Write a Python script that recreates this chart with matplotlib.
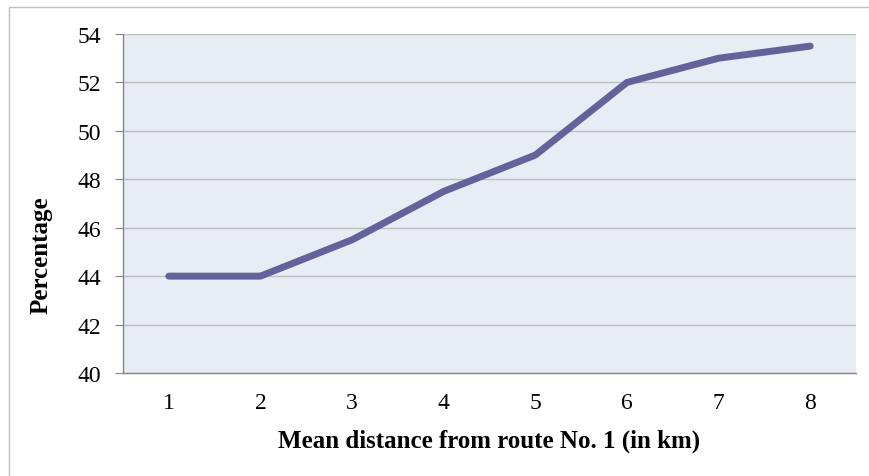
import matplotlib.pyplot as plt
from matplotlib.patches import Rectangle

distance = [1, 2, 3, 4, 5, 6, 7, 8]
percentage = [44, 44, 45.5, 47.5, 49, 52, 53, 53.5]
y_ticks = [40, 42, 44, 46, 48, 50, 52, 54]

plt.rcParams['font.family'] = ['Liberation Serif', 'DejaVu Serif']

W, H = 870, 477
fig = plt.figure(figsize=(W / 100, H / 100), dpi=100)
ax = fig.add_axes([123 / W, 1 - 374 / H, (856 - 123) / W, (374 - 35) / H])

ax.set_facecolor('#E8ECF4')
ax.plot(distance, percentage, color='#64629A', lw=5, solid_capstyle='round',
        solid_joinstyle='round', zorder=3)

ax.set_xlim(0.5, 8.5)
ax.set_ylim(40, 54)
ax.set_yticks(y_ticks)
ax.set_xticks(distance)
ax.grid(axis='y', color='#BFBFBF', lw=1)
ax.set_axisbelow(True)

for s in ['top', 'right']:
    ax.spines[s].set_visible(False)
for s in ['left', 'bottom']:
    ax.spines[s].set_color('#868686')
    ax.spines[s].set_linewidth(1)

ax.tick_params(axis='y', length=6, color='#868686', labelsize=17, pad=10)
ax.tick_params(axis='x', length=0, labelsize=17, pad=14)

ax.set_xlabel('Mean distance from route No. 1 (in km)', fontsize=18,
              fontweight='bold', labelpad=11)
ax.set_ylabel('Percentage', fontsize=18, fontweight='bold')
# label sits a bit below the middle of the axis in the original
ax.yaxis.set_label_coords((53 - 123) / 733, (374 - 255) / 339)

# outer chart frame (runs off right and bottom edges)
fig.patches.append(Rectangle((9 / W, -0.05), 1.1, 1 - 8 / H + 0.05,
                             transform=fig.transFigure, fill=False,
                             edgecolor='#BFBFBF', lw=1))

fig.savefig('out.png', dpi=100)
